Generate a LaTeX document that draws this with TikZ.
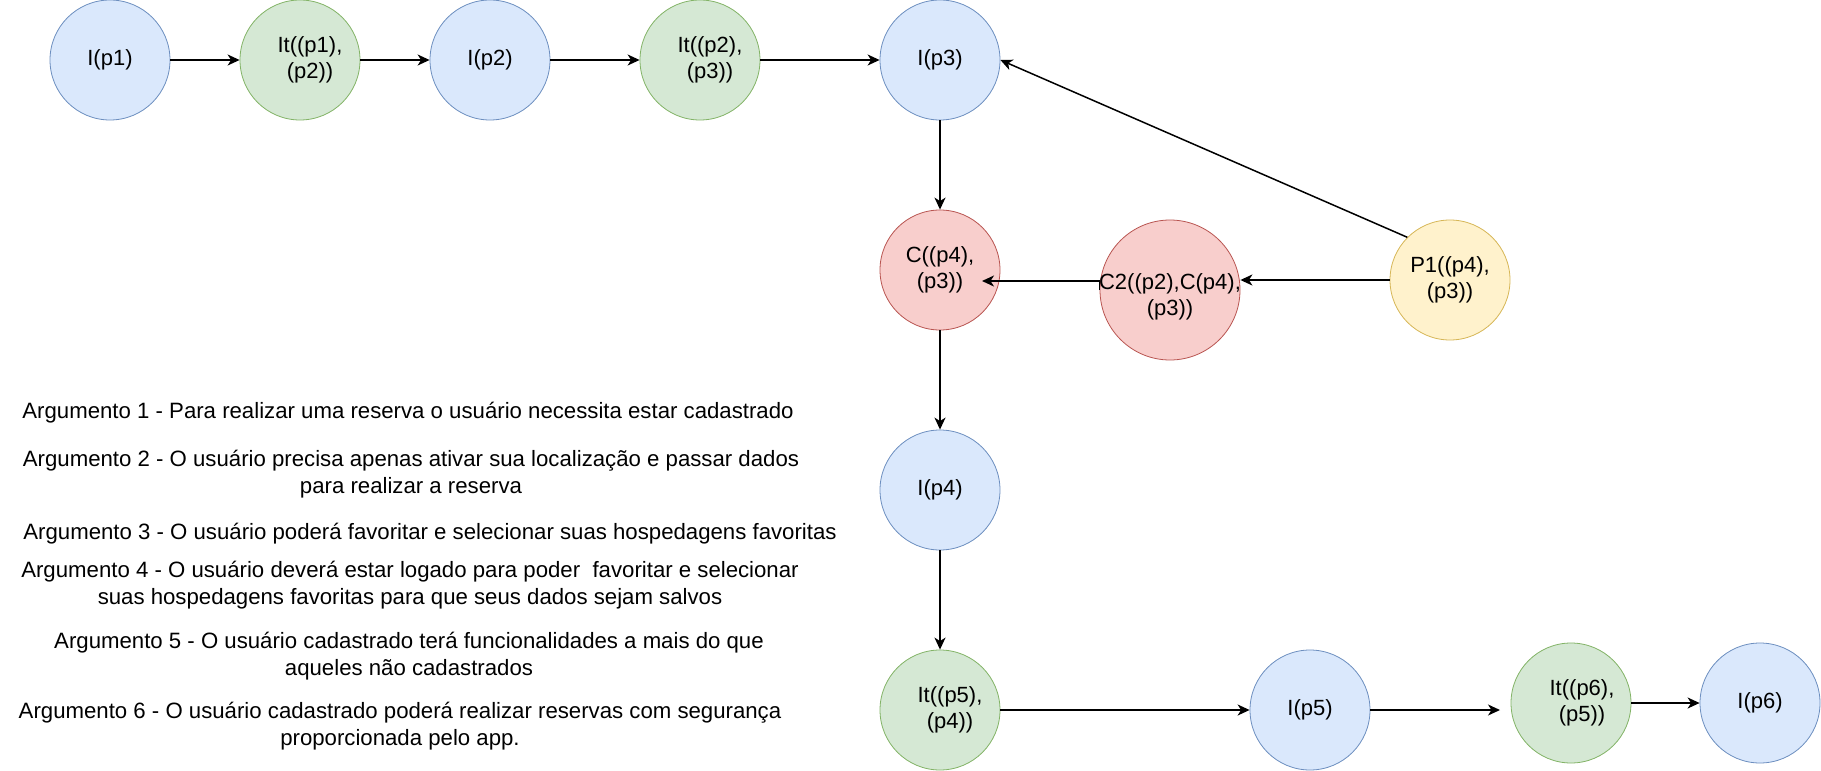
\documentclass[tikz,border=0pt]{standalone}
\usepackage{fontspec}
\setmainfont{Liberation Sans}
\usetikzlibrary{arrows.meta}
\definecolor{bluefill}{HTML}{DAE8FC}\definecolor{bluedraw}{HTML}{6C8EBF}
\definecolor{greenfill}{HTML}{D5E8D4}\definecolor{greendraw}{HTML}{82B366}
\definecolor{redfill}{HTML}{F8CECC}\definecolor{reddraw}{HTML}{B85450}
\definecolor{yellowfill}{HTML}{FFF2CC}\definecolor{yellowdraw}{HTML}{D6B656}
\begin{document}
\begin{tikzpicture}[x=1pt,y=-1pt,
  every node/.style={font=\fontsize{22}{26}\selectfont},
  base/.style={circle,minimum size=120pt,inner sep=0pt,line width=0.8pt,align=center},
  inode/.style={base,fill=bluefill,draw=bluedraw},
  itnode/.style={base,fill=greenfill,draw=greendraw},
  cnode/.style={base,fill=redfill,draw=reddraw},
  pnode/.style={base,fill=yellowfill,draw=yellowdraw},
  arr/.style={line width=1.5pt,-{Stealth[length=12pt,width=11pt,inset=3.5pt]}},
  txt/.style={align=center,inner sep=0pt,font=\fontsize{22.2}{26.5}\selectfont}]
\useasboundingbox (0,0) rectangle (1821,771);
\node[inode] (I1) at (110,60) {I(p1)};
\node[itnode,label={[xshift=10pt,align=center]center:{It((p1),\\(p2))}}] (It1) at (300,60) {};
\node[inode] (I2) at (490,60) {I(p2)};
\node[itnode,label={[xshift=10pt,align=center]center:{It((p2),\\(p3))}}] (It2) at (700,60) {};
\node[inode] (I3) at (940,60) {I(p3)};
\node[cnode] (C) at (940,270) {C((p4),\\(p3))};
\node[cnode,minimum size=140pt,label={[yshift=-7pt,align=center]center:{C2((p2),C(p4),\\(p3))}}] (C2) at (1170,290) {};
\node[pnode] (P1) at (1450,280) {P1((p4),\\(p3))};
\node[inode] (I4) at (940,490) {I(p4)};
\node[itnode,label={[xshift=10pt,align=center]center:{It((p5),\\(p4))}}] (It5) at (940,710) {};
\node[inode] (I5) at (1310,710) {I(p5)};
\node[itnode,label={[xshift=11pt,align=center]center:{It((p6),\\(p5))}}] (It6) at (1571,703) {};
\node[inode] (I6) at (1760,703) {I(p6)};
\coordinate (ctip) at (982,281);
\coordinate (t6tip) at (1500,710);

\draw[arr] (I1) -- (It1);
\draw[arr] (It1) -- (I2);
\draw[arr] (I2) -- (It2);
\draw[arr] (It2) -- (I3);
\draw[arr] (I3) -- (C);
\draw[arr] (P1.north west) -- (I3.east);
\draw[arr] (P1.west) -- (C2.east |- P1.west);
\draw[arr] (C2.west) -- (C2.west |- ctip) -- (ctip);
\draw[arr] (C) -- (I4);
\draw[arr] (I4) -- (It5);
\draw[arr] (It5) -- (I5);
\draw[arr] (I5.east) -- (t6tip);
\draw[arr] (It6) -- (I6);

\node[txt] (a1) at (408,413) {Argumento 1 - Para realizar uma reserva o usuário necessita estar cadastrado};
\node[txt] (a2) at (411,474) {Argumento 2 - O usuário precisa apenas ativar sua localização e passar dados\\para realizar a reserva};
\node[txt] (a3) at (430,534) {Argumento 3 - O usuário poderá favoritar e selecionar suas hospedagens favoritas};
\node[txt] (a4) at (410,585) {Argumento 4 - O usuário deverá estar logado para poder\ \ favoritar e selecionar\\suas hospedagens favoritas para que seus dados sejam salvos};
\node[txt] (a5) at (409,656) {Argumento 5 - O usuário cadastrado terá funcionalidades a mais do que\\aqueles não cadastrados};
\node[txt] (a6) at (400,726) {Argumento 6 - O usuário cadastrado poderá realizar reservas com segurança\\proporcionada pelo app.};
\end{tikzpicture}
\end{document}
